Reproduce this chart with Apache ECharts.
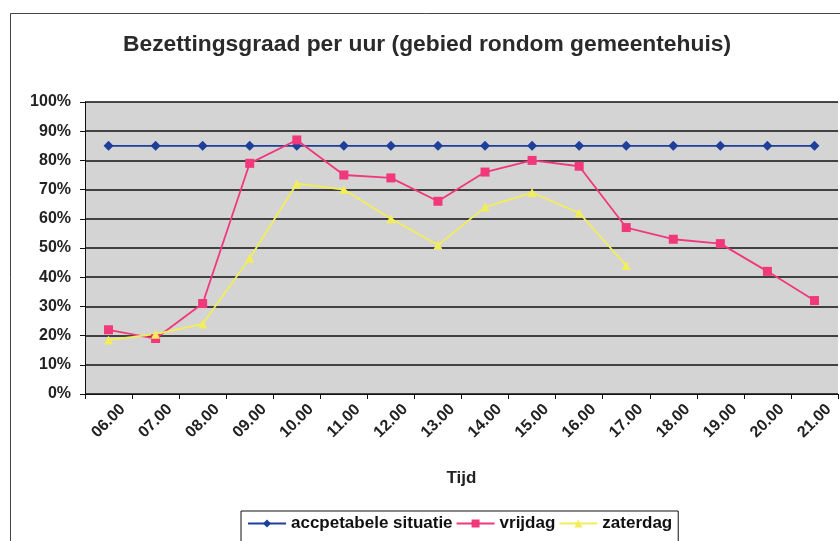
<!DOCTYPE html>
<html>
<head>
<meta charset="utf-8">
<script src="https://cdn.jsdelivr.net/npm/echarts@6/dist/echarts.min.js"></script>
<style>
  html, body { margin: 0; padding: 0; background: #fff; }
  #chart { width: 840px; height: 541px; }
</style>
</head>
<body>
<div id="chart"></div>
<script>
// data
const hours = ['06.00', '07.00', '08.00', '09.00', '10.00', '11.00', '12.00', '13.00',
  '14.00', '15.00', '16.00', '17.00', '18.00', '19.00', '20.00', '21.00'];
const acceptabel = [85, 85, 85, 85, 85, 85, 85, 85, 85, 85, 85, 85, 85, 85, 85, 85];
const vrijdag = [22, 19, 31, 79, 87, 75, 74, 66, 76, 80, 78, 57, 53, 51.5, 42, 32];
const zaterdag = [18.5, 20.5, 24, 46.5, 72, 70, 60, 51, 64, 69, 62, 44];

const chart = echarts.init(document.getElementById('chart'));

const font = 'Liberation Sans, Arial, sans-serif';

chart.setOption({
  animation: false,
  textStyle: { fontFamily: font },
  title: {
    text: 'Bezettingsgraad per uur (gebied rondom gemeentehuis)',
    left: 422,
    top: 28,
    textAlign: 'center',
    textStyle: { fontSize: 22.8, fontWeight: 'bold', color: '#2a2a2a', fontFamily: font }
  },
  graphic: [{
    type: 'rect',
    shape: { x: 10.5, y: 13.5, width: 900, height: 600 },
    style: { fill: null, stroke: '#444', lineWidth: 1 },
    silent: true,
    z: -1
  }],
  legend: {
    top: 511,
    left: 241,
    padding: [4, 6, 20, 6],
    borderColor: '#111',
    borderWidth: 1,
    itemWidth: 38,
    itemHeight: 10,
    itemGap: 3,
    textStyle: { fontSize: 17, fontWeight: 'bold', color: '#111', fontFamily: font },
    data: ['accpetabele situatie', 'vrijdag', 'zaterdag']
  },
  grid: {
    left: 85,
    right: 2,
    top: 102,
    bottom: 147,
    show: true,
    backgroundColor: '#d4d4d4',
    borderWidth: 0
  },
  xAxis: {
    type: 'category',
    data: hours,
    boundaryGap: true,
    name: 'Tijd',
    nameLocation: 'middle',
    nameGap: 76,
    nameTextStyle: { fontSize: 17, fontWeight: 'bold', color: '#222' },
    axisLine: { lineStyle: { color: '#111', width: 1 } },
    axisTick: { show: true, length: 5, lineStyle: { color: '#111' } },
    axisLabel: {
      rotate: 45,
      interval: 0,
      margin: 27,
      align: 'center',
      verticalAlign: 'middle',
      fontSize: 16,
      fontWeight: 'bold',
      color: '#222'
    }
  },
  yAxis: {
    type: 'value',
    min: 0,
    max: 100,
    interval: 10,
    axisLine: { show: true, lineStyle: { color: '#111', width: 1 } },
    axisTick: { show: true, length: 5, lineStyle: { color: '#111' } },
    axisLabel: {
      formatter: '{value}%',
      margin: 14,
      fontSize: 16,
      fontWeight: 'bold',
      color: '#222'
    },
    splitLine: { lineStyle: { color: '#111', width: 1.5 } }
  },
  series: [
    {
      name: 'accpetabele situatie',
      type: 'line',
      data: acceptabel,
      symbol: 'diamond',
      symbolSize: 10,
      lineStyle: { color: '#1e3f9a', width: 1.8 },
      itemStyle: { color: '#1e3f9a' }
    },
    {
      name: 'vrijdag',
      type: 'line',
      data: vrijdag,
      symbol: 'rect',
      symbolSize: 9,
      lineStyle: { color: '#f0387a', width: 1.8 },
      itemStyle: { color: '#f0387a' }
    },
    {
      name: 'zaterdag',
      type: 'line',
      data: zaterdag,
      symbol: 'triangle',
      symbolSize: 9,
      lineStyle: { color: '#f2ee5a', width: 1.8 },
      itemStyle: { color: '#f2ee5a' }
    }
  ]
});
</script>
</body>
</html>
